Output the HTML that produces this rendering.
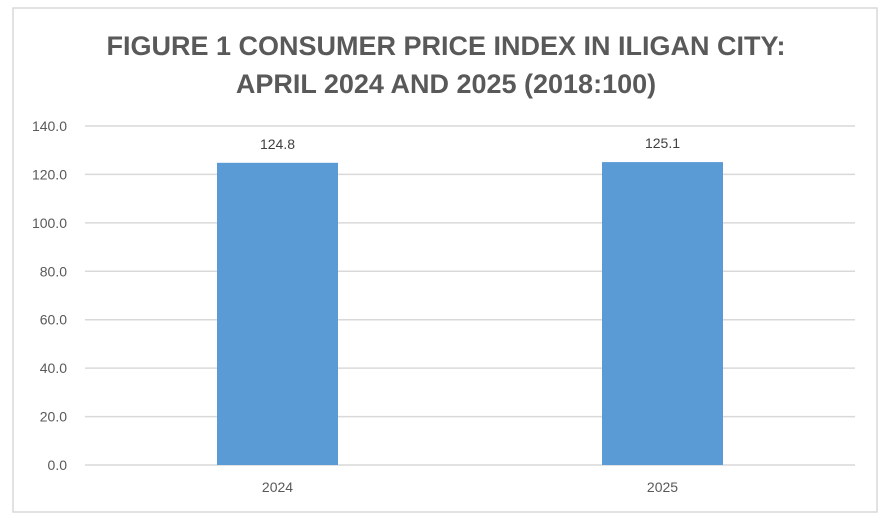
<!DOCTYPE html>
<html><head><meta charset="utf-8"><style>
body{margin:0;background:#fff;width:893px;height:524px;overflow:hidden}
svg text{font-family:"Liberation Sans",sans-serif}
</style></head><body>
<svg id="chart" width="893" height="524">
<rect x="13" y="8" width="864" height="504" fill="#fff" stroke="#d9d9d9" stroke-width="1.5"/>
<text x="446" y="55" text-anchor="middle" font-size="27" font-weight="bold" fill="#595959">FIGURE 1 CONSUMER PRICE INDEX IN ILIGAN CITY:</text>
<text x="446" y="93" text-anchor="middle" font-size="27" font-weight="bold" fill="#595959">APRIL 2024 AND 2025 (2018:100)</text>
<g id="grid"></g><g id="bars"></g>
</svg>
<script>
const categories=["2024","2025"];
const values=[124.8,125.1];
const ticks=[0,20,40,60,80,100,120,140];
const x0=85,x1=855,y0=465,y1=126,yMax=140,barW=121;
const ns="http://www.w3.org/2000/svg";
const y=v=>y0-(v/yMax)*(y0-y1);
const bw=(x1-x0)/categories.length;
const xc=i=>x0+bw*(i+0.5);
const g=document.getElementById("grid"),b=document.getElementById("bars");
function mk(tag,attrs,parent,txt){const e=document.createElementNS(ns,tag);for(const k in attrs)e.setAttribute(k,attrs[k]);if(txt!==undefined)e.textContent=txt;parent.appendChild(e);return e;}
ticks.forEach(t=>{
 const l=mk("line",{x1:x0,x2:x1,y1:y(t),y2:y(t),stroke:"#d9d9d9","stroke-width":1.5},g);
 
 
 const tx=mk("text",{x:67,y:y(t)+5,"text-anchor":"end","font-size":14,fill:"#595959"},g,t.toFixed(1));
 
 
});
categories.forEach((c,i)=>{
 const r=mk("rect",{x:xc(i)-barW/2,y:y(values[i]),width:barW,height:y0-y(values[i]),fill:"#5b9bd5"},b);
 
 
 const v=mk("text",{x:xc(i),y:y(values[i])-14,"text-anchor":"middle","font-size":14,fill:"#404040"},b,values[i].toFixed(1));
 
 
 const cl=mk("text",{x:xc(i),y:y0+27,"text-anchor":"middle","font-size":14,fill:"#595959"},b,c);
 
 
});
</script>
</body></html>
